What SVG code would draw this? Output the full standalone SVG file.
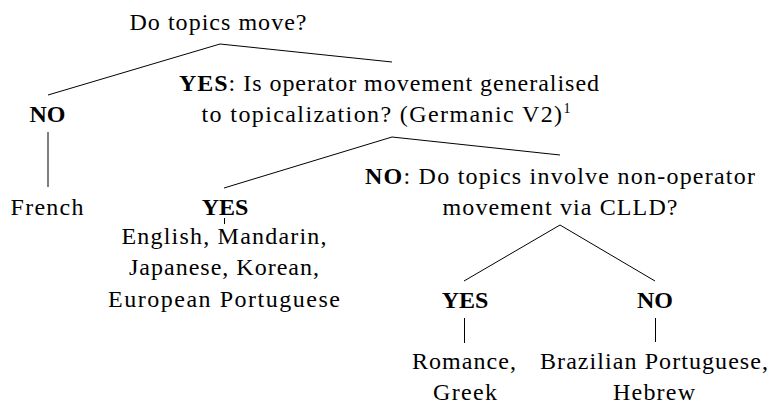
<svg xmlns="http://www.w3.org/2000/svg" width="773" height="404" viewBox="0 0 773 404">
<style>
text{font-family:"Liberation Serif","Tinos","DejaVu Serif",serif;font-size:24px;fill:#000;text-anchor:middle}
.b{font-weight:bold}
.e{stroke:#000;stroke-width:1;fill:none}
</style>
<rect width="773" height="404" fill="#fff"/>
<g id="edges">
<line class="e" x1="220" y1="44" x2="48" y2="95"/>
<line class="e" x1="220" y1="44" x2="392" y2="62"/>
<line class="e" x1="48" y1="132" x2="48" y2="187"/>
<line class="e" x1="392" y1="137" x2="224" y2="188"/>
<line class="e" x1="392" y1="137" x2="560" y2="155"/>
<line class="e" x1="224.5" y1="218" x2="224.5" y2="224"/>
<line class="e" x1="560" y1="225" x2="464" y2="281"/>
<line class="e" x1="560" y1="225" x2="655" y2="281"/>
<line class="e" x1="464.5" y1="318" x2="464.5" y2="343"/>
<line class="e" x1="655.5" y1="318" x2="655.5" y2="342"/>
</g>
<g id="root"><text x="218" y="29.5" textLength="177" lengthAdjust="spacing">Do topics move?</text></g>
<g id="no1"><text x="47.5" y="122" class="b">NO</text></g>
<g id="french"><text x="47" y="214.5" textLength="73" lengthAdjust="spacing">French</text></g>
<g id="yes1"><text x="389" y="91" textLength="420" lengthAdjust="spacing"><tspan class="b">YES</tspan>: Is operator movement generalised</text><text x="386" y="122" textLength="369" lengthAdjust="spacing">to topicalization? (Germanic V2)<tspan font-size="14" dy="-9">1</tspan></text></g>
<g id="yes2"><text x="225" y="215" class="b">YES</text></g>
<g id="english"><text x="224" y="244" textLength="205" lengthAdjust="spacing">English, Mandarin,</text><text x="224" y="275" textLength="190" lengthAdjust="spacing">Japanese, Korean,</text><text x="224" y="307" textLength="232" lengthAdjust="spacing">European Portuguese</text></g>
<g id="no2"><text x="560" y="184" textLength="390" lengthAdjust="spacing"><tspan class="b">NO</tspan>: Do topics involve non-operator</text><text x="560" y="215" textLength="235" lengthAdjust="spacing">movement via CLLD?</text></g>
<g id="yes3"><text x="465" y="308" class="b">YES</text></g>
<g id="no3"><text x="655" y="308" class="b">NO</text></g>
<g id="romance"><text x="464" y="369" textLength="104" lengthAdjust="spacing">Romance,</text><text x="465" y="400" textLength="64" lengthAdjust="spacing">Greek</text></g>
<g id="brazil"><text x="654" y="369" textLength="228" lengthAdjust="spacing">Brazilian Portuguese,</text><text x="654" y="400" textLength="82" lengthAdjust="spacing">Hebrew</text></g>
</svg>
